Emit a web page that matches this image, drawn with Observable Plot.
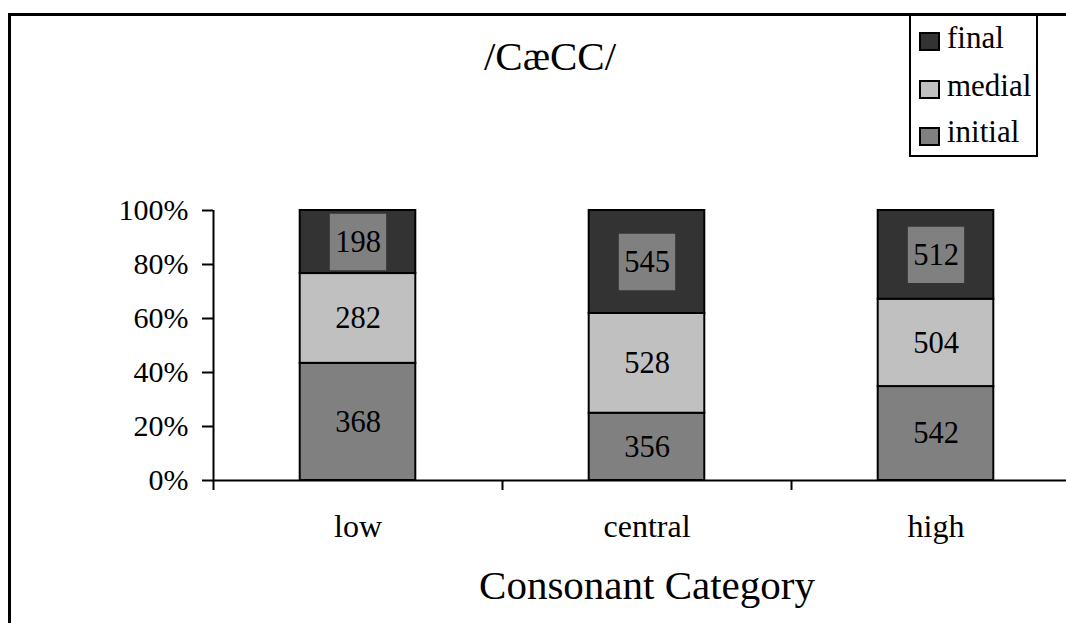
<!DOCTYPE html>
<html>
<head>
<meta charset="utf-8">
<script src="https://cdn.jsdelivr.net/npm/d3@7"></script>
<script src="https://cdn.jsdelivr.net/npm/@observablehq/plot@0.6"></script>
<style>
  html, body { margin: 0; padding: 0; background: #fff; }
  #wrap { position: relative; width: 1066px; height: 623px; overflow: hidden;
          font-family: "Liberation Serif", "Times New Roman", serif; color: #000; }
  #frame { position: absolute; left: 8px; top: 13px; width: 1200px; height: 800px;
           border: 3px solid #000; box-sizing: border-box; }
  #chart { position: absolute; left: 0; top: 0; }
  #title { position: absolute; left: 450px; width: 200px; top: 36px; text-align: center;
           font-size: 41px; line-height: 41px; white-space: nowrap; }
  #legend { position: absolute; left: 909px; top: 14px; width: 129px; height: 143px;
            border: 2px solid #000; box-sizing: border-box; background: #fff; }
  .sw { position: absolute; left: 8px; width: 21px; height: 19px; border: 2px solid #000; box-sizing: border-box; }
  .lt { position: absolute; left: 36px; font-size: 31px; line-height: 31px; white-space: nowrap; }
</style>
</head>
<body>
<div id="wrap">
  <div id="frame"></div>
  <div id="chart"></div>
  <div id="title">/CæCC/</div>
  <div id="legend"></div>
</div>
<script>
const categories = ["low", "central", "high"];
const series = ["initial", "medial", "final"];
const initial = [368, 356, 542];
const medial = [282, 528, 504];
const final = [198, 545, 512];
const colors = ["#808080", "#c0c0c0", "#333333"];
const yTicks = [0, 0.2, 0.4, 0.6, 0.8, 1];
const legendOrder = ["final", "medial", "initial"];
const xTitle = "Consonant Category";

const values = { initial, medial, final };
const rows = [];
categories.forEach((c, i) => {
  const total = series.reduce((s, k) => s + values[k][i], 0);
  let acc = 0;
  series.forEach(k => {
    const v = values[k][i];
    rows.push({ cat: c, i, series: k, value: v, y1: acc / total, y2: (acc + v) / total, mid: (acc + v / 2) / total });
    acc += v;
  });
});

const plot = Plot.plot({
  width: 1066, height: 623,
  marginLeft: 213, marginRight: 0, marginTop: 210, marginBottom: 143,
  style: { background: "transparent", fontFamily: "Liberation Serif, Times New Roman, serif", color: "#000", fontSize: "30px", overflow: "visible" },
  x: { type: "linear", domain: [0, 3], range: [213, 1080], label: null },
  y: { domain: [0, 1], range: [480, 210], label: null },
  color: { domain: series, range: colors },
  marks: [
    Plot.rect(rows, { x1: d => d.i + 0.3, x2: d => d.i + 0.7, y1: "y1", y2: "y2", fill: "series", stroke: "#000", strokeWidth: 2 }),
    Plot.dot(rows.filter(d => d.series === "final"), { x: d => d.i + 0.5, y: "mid", symbol: "square", r: 31.8, fill: "#808080", stroke: "none" }),
    Plot.text(rows, { x: d => d.i + 0.5, y: "mid", text: d => String(d.value), fontSize: 30.5, fill: "#000" }),
    Plot.ruleY([0], { strokeWidth: 2 }),
    Plot.ruleX([0], { y1: 0, y2: 1, strokeWidth: 2 }),
    Plot.axisY({ ticks: yTicks, tickFormat: d3.format(".0%"), tickSize: 11, tickPadding: 14, fontSize: 30, strokeWidth: 2, label: null }),
    Plot.axisX({ ticks: [0, 1, 2, 3], tickFormat: () => "", tickSize: 10, strokeWidth: 2, label: null }),
    Plot.axisX({ ticks: [0.5, 1.5, 2.5], tickFormat: d => categories[Math.floor(d)], tickSize: 0, tickPadding: 34, fontSize: 32, label: null }),
    Plot.text([xTitle], { x: () => 1.5, y: () => 0, dy: 105, text: d => d, fontSize: 41, fill: "#000" })
  ]
});
document.getElementById("chart").appendChild(plot);

// legend
const legend = document.getElementById("legend");
const swCenters = [25, 73.5, 120.5];
const baselines = [32, 80, 126];
legendOrder.forEach((k, j) => {
  const sw = document.createElement("div");
  sw.className = "sw";
  sw.style.top = (swCenters[j] - 9.5) + "px";
  sw.style.background = colors[series.indexOf(k)];
  legend.appendChild(sw);
  const t = document.createElement("div");
  t.className = "lt";
  t.style.top = (baselines[j] - 26) + "px";
  t.textContent = k;
  legend.appendChild(t);
});
</script>
</body>
</html>
